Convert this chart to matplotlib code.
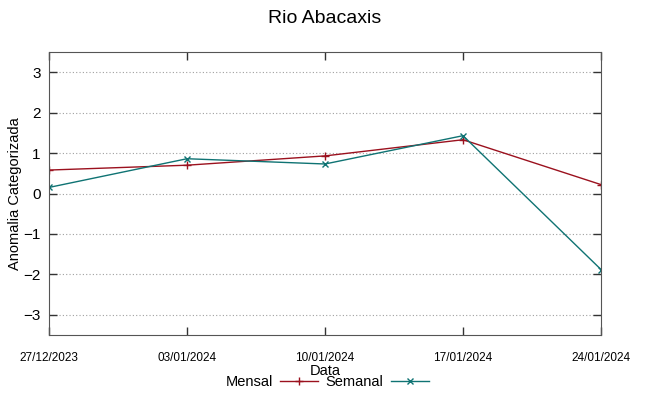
#!/usr/bin/env python

import matplotlib
matplotlib.use('Agg')
import matplotlib.pyplot as plt
import matplotlib.dates as mdates
from datetime import datetime

matplotlib.rc('font', family=['Liberation Sans', 'DejaVu Sans'], size=10)

# valores
datas = ['27/12/2023', '03/01/2024', '10/01/2024', '17/01/2024', '24/01/2024']
mensal = [0.58, 0.70, 0.93, 1.33, 0.22]
semanal = [0.15, 0.86, 0.73, 1.43, -1.88]
yticks = [-3, -2, -1, 0, 1, 2, 3]

x = [datetime.strptime(d, '%d/%m/%Y') for d in datas]

fig = plt.figure(figsize=(6.49, 3.96), dpi=100)
ax = fig.add_axes([49/649, 61/396, 552/649, 283/396])

ax.plot(x, mensal, color='#9b111e', lw=1, marker='+', ms=6, mew=1, label='Mensal')
ax.plot(x, semanal, color='#0f7373', lw=1, marker='x', ms=5, mew=1, label='Semanal')

ax.set_xlim(x[0], x[-1])
ax.set_ylim(-3.5, 3.5)
ax.set_xticks(x)
ax.xaxis.set_major_formatter(mdates.DateFormatter('%d/%m/%Y'))
ax.set_yticks(yticks)
ax.grid(axis='y', color='#a0a0a0', ls=(0, (1, 2)), lw=0.8)

ax.tick_params(direction='in', length=6, width=1, top=True, right=True, color='#333333')
ax.tick_params(axis='x', labelsize=8.5, pad=12)
ax.tick_params(axis='y', labelsize=11, pad=6)
for s in ax.spines.values():
    s.set_color('#555555')

ax.set_xlabel('Data', fontsize=10.5, labelpad=0)
ax.set_ylabel('Anomalia Categorizada', fontsize=10.5, labelpad=1)
fig.suptitle('Rio Abacaxis', fontsize=14, y=0.975)

fig.legend(loc='center', bbox_to_anchor=(0.504, 0.035), ncol=2, frameon=False,
           markerfirst=False, handlelength=2.6, columnspacing=0.5, handletextpad=0.5,
           prop={'size': 10.5})

plt.savefig('out.png', dpi=100)
